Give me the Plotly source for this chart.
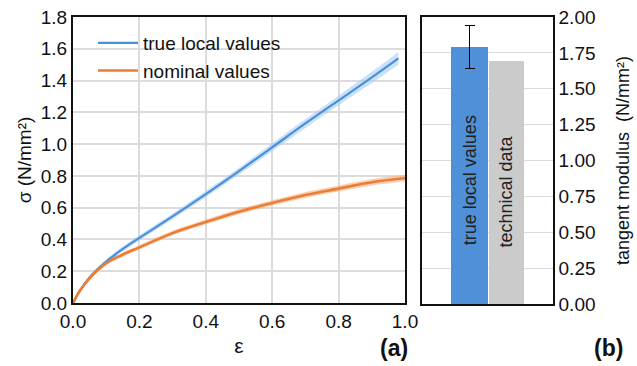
import plotly.graph_objects as go

# ---- data (left panel: stress-strain curves) ----
eps_true = [0, 0.02, 0.05, 0.1, 0.15, 0.2, 0.3, 0.4, 0.5, 0.6, 0.7, 0.8, 0.9, 0.98]
sig_true = [0, 0.075, 0.16, 0.26, 0.34, 0.41, 0.545, 0.685, 0.83, 0.98, 1.13, 1.275, 1.42, 1.54]
band_true = [0, 0.01, 0.012, 0.015, 0.015, 0.016, 0.018, 0.02, 0.022, 0.025, 0.028, 0.03, 0.035, 0.04]

eps_nom = [0, 0.02, 0.05, 0.1, 0.15, 0.2, 0.3, 0.4, 0.5, 0.6, 0.7, 0.8, 0.9, 1.0]
sig_nom = [0, 0.075, 0.155, 0.25, 0.305, 0.35, 0.44, 0.51, 0.575, 0.63, 0.68, 0.72, 0.76, 0.785]
band_nom = [0, 0.008, 0.01, 0.012, 0.012, 0.013, 0.014, 0.015, 0.016, 0.017, 0.018, 0.019, 0.02, 0.02]

x_ticks = [0.0, 0.2, 0.4, 0.6, 0.8, 1.0]
y_ticks = [0.0, 0.2, 0.4, 0.6, 0.8, 1.0, 1.2, 1.4, 1.6, 1.8]

# ---- data (right panel: tangent modulus) ----
bar_labels = ["true local values", "technical data"]
bar_pos = [0, 1]
bar_values = [1.79, 1.69]
bar_err = [0.15, None]
bar_widths = [1.0, 0.95]
bar_colors = ["#4f90d8", "#cccbcb"]
label_centers = [0.86, 0.78]
y2_ticks = [0.0, 0.25, 0.5, 0.75, 1.0, 1.25, 1.5, 1.75, 2.0]

BLUE = "#4a90d9"
BLUE_BAND = "rgba(160,200,240,0.55)"
ORANGE = "#ed7d31"
ORANGE_BAND = "rgba(245,170,120,0.55)"
FONT = "Liberation Sans, Arial, sans-serif"

fig = go.Figure()

def add_band(x, y, b, color):
    upper = [v + d for v, d in zip(y, b)]
    lower = [v - d for v, d in zip(y, b)]
    fig.add_trace(go.Scatter(x=x, y=upper, mode="lines", line=dict(width=0, shape="spline"),
                             showlegend=False, hoverinfo="skip", xaxis="x", yaxis="y"))
    fig.add_trace(go.Scatter(x=x, y=lower, mode="lines", line=dict(width=0, shape="spline"),
                             fill="tonexty", fillcolor=color, showlegend=False,
                             hoverinfo="skip", xaxis="x", yaxis="y"))

add_band(eps_true, sig_true, band_true, BLUE_BAND)
add_band(eps_nom, sig_nom, band_nom, ORANGE_BAND)

fig.add_trace(go.Scatter(x=eps_true, y=sig_true, mode="lines", name="true local values",
                         line=dict(color=BLUE, width=2.2, shape="spline"), xaxis="x", yaxis="y"))
fig.add_trace(go.Scatter(x=eps_nom, y=sig_nom, mode="lines", name="nominal values",
                         line=dict(color=ORANGE, width=2.6, shape="spline"), xaxis="x", yaxis="y"))

# bars
for i in range(len(bar_values)):
    err = None
    if bar_err[i] is not None:
        err = dict(type="data", array=[bar_err[i]], color="black", thickness=1.3, width=5)
    fig.add_trace(go.Bar(x=[bar_pos[i]], y=[bar_values[i]], width=[bar_widths[i]],
                         marker=dict(color=bar_colors[i], line=dict(width=0)),
                         error_y=err, showlegend=False, xaxis="x2", yaxis="y2"))
    fig.add_annotation(x=bar_pos[i], y=label_centers[i], xref="x2", yref="y2",
                       text=bar_labels[i], textangle=-90, showarrow=False,
                       yanchor="middle", xanchor="center",
                       font=dict(size=18, color="#222222", family=FONT))

W, H = 637, 366
def fx(px):
    return px / W
def fy(py):
    return 1 - py / H

axis_common = dict(showline=True, mirror=True, linecolor="#111111", ticks="",
                   zeroline=False, automargin=False,
                   tickfont=dict(size=19, color="#111111", family=FONT))

fig.update_layout(
    width=W, height=H,
    margin=dict(l=0, r=0, t=0, b=0),
    paper_bgcolor="white", plot_bgcolor="white",
    font=dict(family=FONT, color="#111111"),
    showlegend=True,
    bargap=0,
    legend=dict(x=fx(93), y=fy(24), xanchor="left", yanchor="top",
                bgcolor="rgba(0,0,0,0)", font=dict(size=19, family=FONT),
                traceorder="normal", tracegroupgap=0, itemwidth=40),
    xaxis=dict(domain=[fx(73), fx(405)], range=[0, 1.0], tickvals=x_ticks,
               ticktext=["%.1f" % v for v in x_ticks], showgrid=True,
               gridcolor="#dcdcdc", gridwidth=1.5, linewidth=2, anchor="y",
               title=dict(text="ε", font=dict(size=21, family=FONT), standoff=8),
               **axis_common),
    yaxis=dict(domain=[fy(303), fy(17)], range=[0, 1.8], tickvals=y_ticks,
               ticktext=["%.1f" % v for v in y_ticks], showgrid=True,
               gridcolor="#dcdcdc", gridwidth=1.5, linewidth=2, anchor="x",
               title=dict(text="σ (N/mm²)", font=dict(size=19, family=FONT), standoff=4),
               **axis_common),
    xaxis2=dict(domain=[fx(422), fx(553)], range=[-1.29, 2.26], showticklabels=False,
                showgrid=False, linewidth=1.5, anchor="y2", **axis_common),
    yaxis2=dict(domain=[fy(304), fy(17)], range=[0, 2.0], tickvals=y2_ticks,
                ticktext=["%.2f" % v for v in y2_ticks], side="right", showgrid=True,
                gridcolor="#dcdcdc", gridwidth=1.2, linewidth=1.5, anchor="x2",
                title=dict(text="tangent modulus  (N/mm²)", font=dict(size=18, family=FONT),
                           standoff=22),
                **axis_common),
)

fig.add_annotation(x=fx(394), y=fy(348), xref="paper", yref="paper", text="<b>(a)</b>",
                   xanchor="center", yanchor="middle", showarrow=False,
                   font=dict(size=23, color="#111111", family=FONT))
fig.add_annotation(x=fx(608), y=fy(348), xref="paper", yref="paper", text="<b>(b)</b>",
                   xanchor="center", yanchor="middle", showarrow=False,
                   font=dict(size=23, color="#111111", family=FONT))

fig.write_html("out.html")
